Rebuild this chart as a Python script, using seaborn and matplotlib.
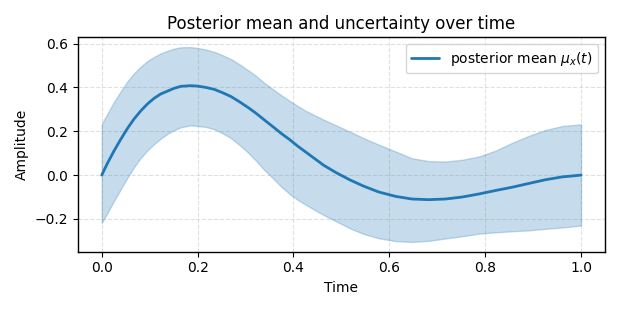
import matplotlib
matplotlib.use("Agg")
import matplotlib.pyplot as plt
import seaborn as sns
import pandas as pd

time = [0.0, 0.011, 0.025, 0.039, 0.053, 0.067, 0.081, 0.095, 0.109, 0.123,
        0.137, 0.151, 0.165, 0.185, 0.2, 0.217, 0.235, 0.252, 0.27, 0.287,
        0.305, 0.322, 0.339, 0.357, 0.374, 0.392, 0.409, 0.427, 0.445, 0.463,
        0.49, 0.518, 0.546, 0.578, 0.613, 0.647, 0.682, 0.717, 0.752, 0.787,
        0.822, 0.857, 0.891, 0.926, 0.961, 1.0]
mean = [0.0, 0.05, 0.108, 0.161, 0.211, 0.255, 0.292, 0.324, 0.35, 0.37,
        0.383, 0.396, 0.405, 0.408, 0.406, 0.4, 0.391, 0.376, 0.358, 0.335,
        0.309, 0.282, 0.252, 0.221, 0.191, 0.162, 0.132, 0.103, 0.074, 0.045,
        0.01, -0.022, -0.05, -0.077, -0.097, -0.109, -0.112, -0.109, -0.1, -0.086,
        -0.07, -0.055, -0.038, -0.021, -0.008, 0.0]
upper = [0.232, 0.277, 0.332, 0.38, 0.426, 0.464, 0.494, 0.52, 0.539, 0.555,
         0.567, 0.577, 0.583, 0.584, 0.58, 0.573, 0.562, 0.547, 0.529, 0.506,
         0.479, 0.452, 0.421, 0.392, 0.365, 0.339, 0.315, 0.292, 0.272, 0.253,
         0.226, 0.198, 0.169, 0.139, 0.108, 0.077, 0.064, 0.062, 0.07, 0.085,
         0.112, 0.148, 0.179, 0.206, 0.224, 0.232]
lower = [-0.218, -0.176, -0.12, -0.067, -0.014, 0.035, 0.077, 0.112, 0.141, 0.166,
         0.188, 0.205, 0.218, 0.227, 0.224, 0.22, 0.209, 0.191, 0.168, 0.138,
         0.103, 0.065, 0.024, -0.014, -0.052, -0.086, -0.113, -0.137, -0.16, -0.182,
         -0.212, -0.243, -0.268, -0.288, -0.301, -0.305, -0.30, -0.289, -0.279, -0.267,
         -0.261, -0.256, -0.252, -0.245, -0.239, -0.23]

df = pd.DataFrame({"Time": time, "mean": mean, "upper": upper, "lower": lower})

sns.set_style("ticks")
plt.rcParams["font.family"] = ["DejaVu Sans"]
plt.rcParams.update({"text.color": "black", "axes.labelcolor": "black",
                     "xtick.color": "black", "ytick.color": "black"})

fig, ax = plt.subplots(figsize=(6.2, 3.1), dpi=100)
ax.fill_between(df["Time"], df["lower"], df["upper"], color="#1f77b4", alpha=0.25)
sns.lineplot(data=df, x="Time", y="mean", ax=ax, color="#1f77b4", linewidth=2,
             label=r"posterior mean $\mu_x(t)$")
ax.grid(True, linestyle="--", color="#cccccc", alpha=0.6, linewidth=0.8)
ax.set_title("Posterior mean and uncertainty over time", fontsize=12)
ax.set_xlabel("Time")
ax.set_ylabel("Amplitude")
ax.legend(loc="upper right", fontsize=10)
for s in ax.spines.values():
    s.set_visible(True)
    s.set_color("black")
    s.set_linewidth(1.0)
fig.tight_layout()
fig.savefig("out.png", dpi=100)
